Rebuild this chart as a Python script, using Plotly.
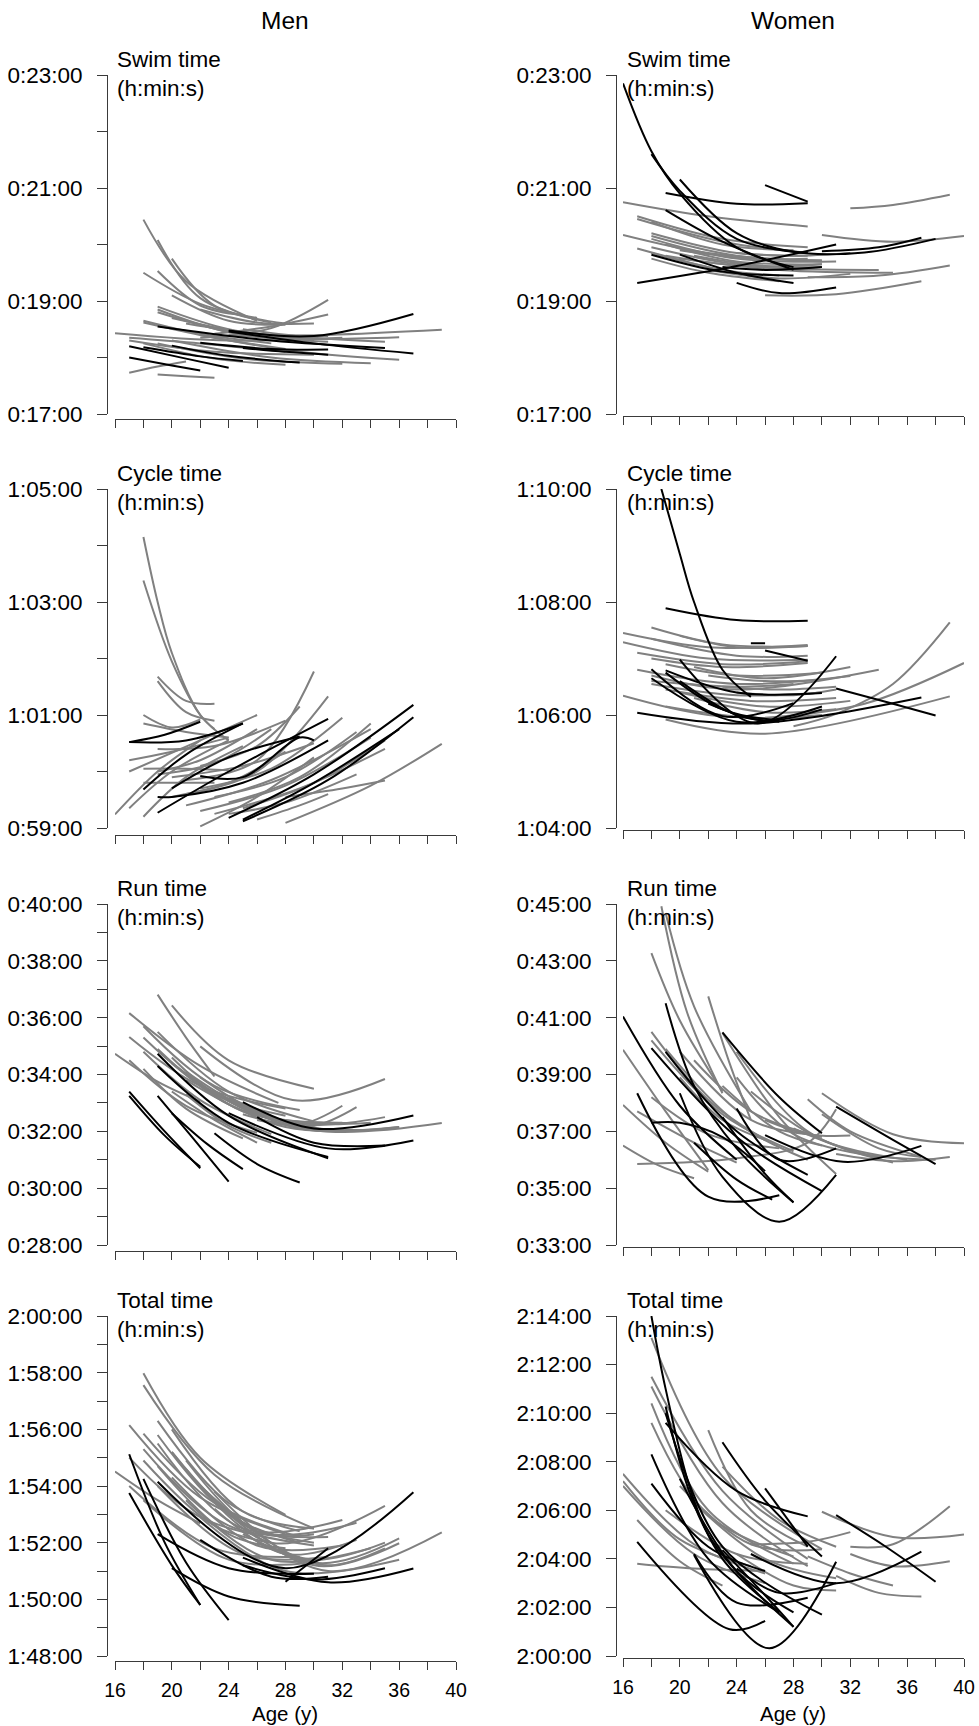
import plotly.graph_objects as go

# ---------------- DATA (age in years, time in minutes) ----------------
AGE_TICKS = [16, 20, 24, 28, 32, 36, 40]
AGE_TICK_LABELS = ["16", "20", "24", "28", "32", "36", "40"]
AGE_MINOR = [18, 22, 26, 30, 34, 38]

SWIM_TICKS = [17, 19, 21, 23]
SWIM_TICK_LABELS = ["0:17:00", "0:19:00", "0:21:00", "0:23:00"]
MEN_CYCLE_TICKS = [59, 61, 63, 65]
MEN_CYCLE_TICK_LABELS = ["0:59:00", "1:01:00", "1:03:00", "1:05:00"]
WOMEN_CYCLE_TICKS = [64, 66, 68, 70]
WOMEN_CYCLE_TICK_LABELS = ["1:04:00", "1:06:00", "1:08:00", "1:10:00"]
MEN_RUN_TICKS = [28, 30, 32, 34, 36, 38, 40]
MEN_RUN_TICK_LABELS = ["0:28:00", "0:30:00", "0:32:00", "0:34:00", "0:36:00", "0:38:00", "0:40:00"]
WOMEN_RUN_TICKS = [33, 35, 37, 39, 41, 43, 45]
WOMEN_RUN_TICK_LABELS = ["0:33:00", "0:35:00", "0:37:00", "0:39:00", "0:41:00", "0:43:00", "0:45:00"]
MEN_TOTAL_TICKS = [108, 110, 112, 114, 116, 118, 120]
MEN_TOTAL_TICK_LABELS = ["1:48:00", "1:50:00", "1:52:00", "1:54:00", "1:56:00", "1:58:00", "2:00:00"]
WOMEN_TOTAL_TICKS = [120, 122, 124, 126, 128, 130, 132, 134]
WOMEN_TOTAL_TICK_LABELS = ["2:00:00", "2:02:00", "2:04:00", "2:06:00", "2:08:00", "2:10:00", "2:12:00", "2:14:00"]

men_swim_gray = [
    ([18, 21, 26], [20.44, 19.35, 18.65]),
    ([19, 22, 27], [20.08, 19.05, 18.62]),
    ([20, 23, 28], [19.75, 18.92, 18.60]),
    ([18, 22, 26], [19.50, 18.95, 18.70]),
    ([19, 22, 25], [19.53, 18.92, 18.75]),
    ([20, 24, 28], [19.10, 18.65, 18.58]),
    ([19, 24, 29], [18.90, 18.50, 18.35]),
    ([19, 24, 30], [18.85, 18.45, 18.30]),
    ([19, 25, 31], [18.80, 18.40, 18.28]),
    ([18, 22, 27], [18.65, 18.42, 18.25]),
    ([18, 23, 28], [18.62, 18.35, 18.15]),
    ([16, 24, 32], [18.43, 18.30, 18.35]),
    ([17, 22, 28], [18.35, 18.25, 18.10]),
    ([17, 19, 21], [17.73, 17.84, 17.93]),
    ([19, 21, 23], [17.70, 17.67, 17.64]),
    ([22, 27, 31], [18.35, 18.52, 19.02]),
    ([23, 27, 31], [18.42, 18.55, 18.76]),
    ([24, 31, 39], [18.38, 18.40, 18.49]),
    ([22, 29, 36], [18.40, 18.10, 17.96]),
    ([20, 27, 34], [18.30, 18.00, 17.90]),
    ([19, 25, 32], [18.25, 17.98, 17.89]),
    ([18, 23, 28], [18.25, 17.98, 17.87]),
    ([24, 30, 36], [18.40, 18.33, 18.36]),
    ([25, 30, 35], [18.50, 18.35, 18.28]),
    ([17, 23, 30], [18.30, 18.10, 18.05]),
    ([21, 26, 31], [18.60, 18.42, 18.38]),
    ([22, 26, 30], [18.85, 18.62, 18.60]),
    ([20, 25, 30], [18.70, 18.45, 18.35]),
]
men_swim_black = [
    ([19, 27, 35], [18.55, 18.30, 18.17]),
    ([24, 30, 37], [18.48, 18.38, 18.77]),
    ([24, 30, 37], [18.46, 18.25, 18.07]),
    ([22, 27, 31], [18.26, 18.15, 18.14]),
    ([17, 21, 24], [18.20, 17.98, 17.82]),
    ([17, 20, 22], [18.00, 17.86, 17.77]),
    ([18, 22, 25], [18.18, 18.02, 17.94]),
    ([20, 24, 29], [18.21, 18.03, 17.91]),
    ([25, 28, 31], [18.17, 18.10, 18.05]),
]

women_swim_gray = [
    ([16, 22, 29], [20.75, 20.50, 20.32]),
    ([17, 23, 29], [20.50, 20.10, 19.95]),
    ([17, 23, 29], [20.45, 20.05, 19.85]),
    ([18, 23, 28], [20.40, 20.00, 19.90]),
    ([16, 22, 30], [20.17, 19.85, 19.70]),
    ([18, 24, 29], [20.20, 19.85, 19.80]),
    ([18, 24, 30], [20.15, 19.80, 19.72]),
    ([18, 24, 31], [20.10, 19.75, 19.70]),
    ([19, 24, 30], [20.00, 19.70, 19.65]),
    ([18, 24, 30], [19.95, 19.65, 19.60]),
    ([17, 22, 26], [19.93, 19.60, 19.40]),
    ([18, 23, 27], [19.85, 19.55, 19.45]),
    ([19, 25, 34], [19.80, 19.60, 19.55]),
    ([20, 27, 35], [19.75, 19.55, 19.50]),
    ([18, 22, 27], [19.75, 19.50, 19.35]),
    ([22, 27, 32], [19.55, 19.40, 19.48]),
    ([26, 31, 37], [19.10, 19.12, 19.35]),
    ([29, 34, 39], [19.42, 19.45, 19.63]),
    ([32, 35, 39], [20.64, 20.70, 20.88]),
    ([30, 35, 40], [20.17, 20.05, 20.15]),
    ([24, 28, 32], [19.85, 19.80, 19.85]),
    ([20, 25, 29], [19.90, 19.75, 19.75]),
    ([21, 26, 30], [19.80, 19.62, 19.65]),
]
women_swim_black = [
    ([16, 18, 20, 24, 28], [22.85, 21.65, 20.90, 19.95, 19.60]),
    ([18, 20, 24, 29], [21.60, 20.95, 20.10, 19.85]),
    ([19, 24, 29], [20.91, 20.72, 20.73]),
    ([26, 29], [21.05, 20.76]),
    ([19, 23, 28], [20.61, 20.05, 19.55]),
    ([20, 24, 28, 33, 38], [21.15, 20.20, 19.87, 19.86, 20.10]),
    ([30, 34, 37], [19.88, 19.95, 20.12]),
    ([17, 24, 31], [19.32, 19.62, 20.00]),
    ([18, 23, 28], [19.82, 19.52, 19.45]),
    ([20, 24, 28], [19.82, 19.50, 19.32]),
    ([24, 27, 31], [19.32, 19.14, 19.24]),
    ([23, 26, 30], [19.60, 19.55, 19.60]),
]

men_cycle_gray = [
    ([18, 19, 20, 22, 24], [64.15, 63.00, 62.10, 61.00, 60.55]),
    ([18, 20, 22, 23], [63.38, 61.95, 61.00, 60.75]),
    ([19, 21, 23], [61.68, 61.25, 61.20]),
    ([19, 21, 23], [61.60, 61.05, 60.90]),
    ([18, 20, 22], [61.00, 60.78, 60.92]),
    ([18, 21, 24], [60.85, 60.70, 60.60]),
    ([16, 19, 22], [59.24, 60.00, 60.55]),
    ([17, 22, 26], [60.00, 60.55, 61.00]),
    ([17, 20, 24], [59.35, 60.00, 60.55]),
    ([18, 21, 25], [59.20, 59.90, 60.45]),
    ([18, 21, 24], [60.05, 60.05, 60.02]),
    ([18, 21, 23], [59.80, 59.80, 59.80]),
    ([19, 23, 27], [59.95, 60.15, 60.75]),
    ([21, 26, 30], [59.85, 60.20, 61.77]),
    ([21, 26, 31], [59.60, 60.00, 61.33]),
    ([22, 26, 29], [60.10, 60.45, 61.15]),
    ([22, 27, 32], [59.70, 60.05, 60.95]),
    ([23, 28, 33], [59.55, 59.90, 60.70]),
    ([21, 27, 34], [59.40, 59.85, 60.75]),
    ([22, 28, 34], [59.30, 59.75, 60.60]),
    ([23, 29, 35], [59.25, 59.70, 60.40]),
    ([20, 25, 30], [59.90, 60.10, 60.50]),
    ([24, 28, 33], [59.25, 59.45, 59.95]),
    ([28, 34, 39], [59.09, 59.75, 60.49]),
    ([22, 26, 30], [59.03, 59.55, 60.25]),
    ([28, 32, 35], [59.55, 59.70, 59.84]),
    ([26, 29, 31], [59.15, 59.40, 59.60]),
    ([17, 20, 24], [60.20, 60.35, 60.60]),
    ([19, 22, 26], [60.00, 60.20, 60.75]),
    ([20, 24, 28], [59.55, 59.80, 60.35]),
    ([24, 29, 34], [59.45, 59.90, 60.85]),
    ([25, 30, 35], [59.35, 59.80, 60.55]),
    ([19, 23, 28], [60.40, 60.45, 60.90]),
]
men_cycle_black = [
    ([17, 19.5, 22], [60.52, 60.65, 60.88]),
    ([17, 21, 25], [60.52, 60.55, 60.85]),
    ([18, 21, 25], [59.68, 60.30, 60.85]),
    ([19, 24, 31], [59.27, 60.00, 60.93]),
    ([20, 24, 29], [59.70, 60.25, 60.62]),
    ([22, 25, 29, 30], [59.92, 59.90, 60.60, 60.55]),
    ([19, 20, 25, 31], [59.55, 59.55, 59.80, 60.55]),
    ([24, 30, 37], [59.18, 59.95, 61.18]),
    ([25, 31, 37], [59.12, 59.85, 60.96]),
    ([25, 30, 36], [59.15, 59.80, 60.75]),
]

women_cycle_gray = [
    ([16, 22, 29], [67.45, 67.20, 67.24]),
    ([18, 23, 29], [67.55, 67.25, 67.22]),
    ([20, 24, 29], [67.40, 67.20, 67.22]),
    ([16, 22, 29], [67.29, 67.00, 66.98]),
    ([17, 23, 29], [67.10, 66.90, 66.95]),
    ([18, 23, 29], [67.00, 66.85, 66.92]),
    ([17, 24, 32], [66.80, 66.55, 66.69]),
    ([18, 24, 34], [66.70, 66.45, 66.80]),
    ([18, 24, 30], [66.55, 66.35, 66.40]),
    ([19, 25, 31], [66.45, 66.25, 66.30]),
    ([16, 22, 29], [66.34, 66.00, 65.95]),
    ([19, 26, 39], [65.92, 65.67, 66.33]),
    ([26, 33, 40], [65.95, 66.20, 66.92]),
    ([28, 31, 35, 39], [65.80, 66.02, 66.55, 67.64]),
    ([20, 26, 32], [66.40, 66.15, 66.25]),
    ([21, 26, 31], [66.30, 66.05, 66.10]),
    ([19, 25, 30], [66.15, 65.95, 66.00]),
    ([18, 24, 28], [66.60, 66.50, 66.55]),
    ([22, 26, 30], [66.70, 66.60, 66.62]),
    ([23, 27, 31], [66.50, 66.45, 66.50]),
    ([18, 24, 29], [67.35, 67.05, 67.05]),
    ([19, 24, 30], [66.90, 66.70, 66.75]),
    ([21, 26, 32], [66.85, 66.65, 66.85]),
    ([24, 28, 31], [66.40, 66.35, 66.45]),
]
women_cycle_black = [
    ([18.7, 20, 21, 23, 25], [70.00, 68.85, 68.00, 66.80, 66.32]),
    ([19, 24, 29], [67.89, 67.68, 67.67]),
    ([25, 26], [67.27, 67.27]),
    ([26, 29], [67.14, 66.96]),
    ([20, 25.5, 31], [66.98, 65.85, 67.04]),
    ([18, 23, 28], [66.81, 65.98, 66.21]),
    ([18, 24, 30], [66.65, 65.88, 66.15]),
    ([19, 24, 30], [66.79, 66.40, 66.39]),
    ([17, 25, 37], [66.04, 65.85, 66.31]),
    ([31, 35, 38], [66.47, 66.20, 65.99]),
    ([19, 23, 27], [66.75, 66.10, 65.90]),
    ([20, 24, 27], [66.60, 66.00, 65.88]),
    ([22, 26, 30], [66.20, 65.90, 66.10]),
]

men_run_gray = [
    ([19, 21, 23], [36.81, 35.30, 33.93]),
    ([20, 24, 30], [36.43, 34.50, 33.50]),
    ([22, 28.5, 35], [34.99, 33.10, 33.84]),
    ([17, 22, 27.5], [36.16, 34.30, 33.00]),
    ([17, 22, 28], [35.32, 33.60, 32.80]),
    ([16, 19, 22], [34.73, 33.75, 33.05]),
    ([18, 23, 29], [35.70, 33.60, 32.75]),
    ([18, 23, 28], [35.30, 33.30, 32.55]),
    ([17, 21, 26], [34.50, 32.90, 31.95]),
    ([18, 22, 27], [34.80, 33.10, 31.90]),
    ([19, 24, 30], [35.50, 33.40, 32.35]),
    ([19, 24, 31], [34.90, 32.95, 32.05]),
    ([20, 25, 32], [34.60, 32.70, 32.30]),
    ([20, 26, 33], [34.40, 32.60, 32.30]),
    ([21, 27, 34], [34.10, 32.45, 32.30]),
    ([22, 28, 35], [33.90, 32.30, 32.50]),
    ([21, 28, 36], [33.80, 32.15, 32.15]),
    ([22, 29, 36], [33.60, 32.10, 32.15]),
    ([23, 30, 39], [33.40, 32.05, 32.29]),
    ([24, 29, 34], [33.20, 32.20, 32.05]),
    ([25, 29, 32], [32.60, 32.25, 32.90]),
    ([26, 30, 33], [32.40, 32.20, 32.85]),
    ([20, 23, 26], [33.40, 32.40, 31.60]),
    ([21, 24, 27], [33.30, 32.20, 31.60]),
    ([18, 21, 25], [34.20, 32.80, 31.75]),
]
men_run_black = [
    ([19, 24, 31], [34.73, 32.55, 31.05]),
    ([19, 24, 31], [34.30, 32.30, 31.10]),
    ([25, 30, 37], [33.03, 32.10, 32.56]),
    ([24, 31, 37], [32.64, 31.40, 31.68]),
    ([17, 19.5, 22], [33.40, 32.00, 30.70]),
    ([17, 19.5, 22], [33.25, 31.85, 30.75]),
    ([19, 21.5, 24], [33.25, 31.75, 30.23]),
    ([20, 22.5, 25], [32.64, 31.55, 30.67]),
    ([23, 26, 29], [31.93, 30.85, 30.20]),
    ([26, 30, 35], [32.50, 31.60, 31.50]),
]

women_run_gray = [
    ([18.7, 20.5, 23], [44.92, 41.20, 38.34]),
    ([19, 21, 25], [44.68, 41.40, 37.70]),
    ([18, 20, 23], [43.27, 40.90, 38.40]),
    ([22, 23.5, 25], [41.75, 39.40, 37.40]),
    ([16, 19, 22], [39.87, 37.70, 35.64]),
    ([16, 19, 22], [37.93, 36.60, 35.58]),
    ([16, 18.5, 21], [36.50, 35.80, 35.35]),
    ([17, 24, 29, 31], [35.85, 36.05, 36.60, 37.78]),
    ([29, 32, 37], [38.13, 37.00, 36.10]),
    ([30, 35, 40], [38.34, 36.90, 36.58]),
    ([31, 35, 39], [36.20, 35.95, 36.10]),
    ([24, 29, 35], [39.80, 37.00, 35.90]),
    ([23, 27, 31], [40.46, 37.50, 35.50]),
    ([18, 22, 26], [40.50, 38.10, 36.70]),
    ([18, 23, 28], [40.20, 37.60, 36.30]),
    ([19, 24, 29], [39.90, 37.30, 36.00]),
    ([20, 25, 29], [39.80, 37.40, 36.90]),
    ([21, 25, 30], [39.50, 37.70, 36.80]),
    ([24, 28, 34], [38.90, 36.90, 36.10]),
    ([25, 30, 36], [38.40, 36.70, 36.00]),
    ([17, 21, 24], [37.70, 36.60, 35.90]),
    ([18, 22, 27], [38.20, 36.90, 36.40]),
    ([20, 23, 26], [38.90, 37.40, 36.70]),
    ([23, 27, 30], [38.60, 37.00, 36.50]),
    ([26, 29, 32], [37.40, 36.90, 36.85]),
    ([30, 34, 37], [37.60, 36.40, 36.10]),
    ([28, 33, 38], [37.10, 36.20, 36.00]),
]
women_run_black = [
    ([16, 20, 24], [41.04, 37.90, 36.00]),
    ([19, 21, 24, 28], [41.51, 38.60, 36.40, 34.50]),
    ([23, 27, 30], [40.48, 38.20, 36.93]),
    ([17, 22, 27], [38.34, 34.70, 34.75]),
    ([20, 23, 27, 31], [38.34, 35.40, 33.82, 35.47]),
    ([18, 24, 30], [39.93, 36.80, 34.90]),
    ([19, 24, 29], [39.80, 37.00, 35.47]),
    ([24, 27, 31], [37.80, 36.00, 36.40]),
    ([31, 35, 38], [37.87, 36.70, 35.85]),
    ([26, 31.5, 37], [36.87, 35.93, 36.49]),
    ([23, 26, 28], [37.50, 35.50, 34.50]),
    ([18, 20, 23, 26], [37.30, 37.30, 36.80, 35.60]),
    ([21, 24, 26.5], [36.60, 35.30, 34.60]),
]

men_total_gray = [
    ([18, 22, 28], [117.98, 115.00, 112.98]),
    ([18, 23, 30], [117.56, 114.40, 112.50]),
    ([17, 22, 28], [116.15, 113.60, 112.30]),
    ([18, 23, 29], [115.85, 113.40, 112.20]),
    ([16, 19, 22], [114.51, 113.50, 112.68]),
    ([17, 22, 30], [115.00, 112.90, 111.90]),
    ([18, 24, 31], [115.30, 112.60, 112.20]),
    ([19, 25, 32], [115.50, 112.50, 112.80]),
    ([20, 26, 33], [115.20, 112.40, 112.70]),
    ([21, 27, 35], [114.60, 112.00, 113.30]),
    ([22, 30, 36], [114.00, 111.30, 112.15]),
    ([23, 30, 36], [113.80, 111.20, 111.98]),
    ([24, 31, 39], [113.00, 111.00, 112.36]),
    ([20, 26, 32], [114.30, 111.90, 111.90]),
    ([19, 25, 31], [114.00, 111.60, 111.50]),
    ([18, 24, 30], [113.50, 111.40, 111.30]),
    ([17, 23, 29], [114.00, 111.80, 111.50]),
    ([18, 23, 27], [114.90, 112.60, 112.00]),
    ([19, 24, 29], [115.80, 113.00, 112.00]),
    ([20, 25, 30], [116.00, 113.10, 112.50]),
    ([21, 27, 34], [113.50, 111.40, 111.80]),
    ([22, 28, 36], [112.90, 111.00, 111.40]),
    ([25, 30, 35], [112.30, 111.40, 112.00]),
    ([26, 31, 35], [112.00, 111.20, 111.80]),
    ([20, 25, 30], [115.20, 112.70, 112.00]),
    ([19, 24, 28], [114.70, 112.30, 111.80]),
    ([19, 24, 29], [116.30, 113.40, 112.40]),
    ([21, 26, 30], [114.90, 112.40, 112.30]),
    ([23, 28, 33], [113.20, 111.60, 112.10]),
]
men_total_black = [
    ([17, 19.5, 22], [115.12, 112.00, 109.80]),
    ([17, 20, 22], [113.75, 111.20, 109.80]),
    ([18, 21, 24], [114.25, 111.30, 109.27]),
    ([19, 28, 37], [114.15, 111.10, 113.78]),
    ([19, 24, 30], [112.30, 111.10, 110.90]),
    ([20, 24, 29], [111.10, 110.10, 109.77]),
    ([25, 31, 37], [111.47, 110.60, 111.09]),
    ([25, 30, 35], [111.20, 110.70, 111.10]),
    ([28, 31], [110.62, 111.80]),
    ([22, 27, 31], [112.10, 110.80, 110.80]),
]

women_total_gray = [
    ([18, 23, 30], [133.10, 127.40, 124.40]),
    ([18, 23, 29], [131.50, 126.80, 124.00]),
    ([18, 23, 29], [131.10, 126.30, 123.70]),
    ([18, 22, 28], [130.40, 126.00, 123.80]),
    ([18, 22, 28], [129.60, 125.80, 124.10]),
    ([22, 25, 29], [129.30, 126.00, 124.50]),
    ([16, 21, 26], [127.50, 124.60, 123.40]),
    ([16, 20, 25], [127.20, 124.80, 123.70]),
    ([16, 21, 26], [127.00, 124.20, 123.00]),
    ([17, 20, 23], [125.60, 123.90, 122.90]),
    ([17, 21, 26], [123.80, 123.60, 123.50]),
    ([23, 27, 31], [127.80, 125.60, 124.50]),
    ([20, 25, 30], [127.00, 124.60, 124.40]),
    ([21, 26, 31], [126.30, 124.00, 123.20]),
    ([19, 24, 29], [126.00, 124.20, 123.80]),
    ([30, 35, 40], [125.94, 124.90, 125.00]),
    ([32, 35, 39], [124.50, 124.60, 126.17]),
    ([31, 34, 37], [123.30, 122.60, 122.45]),
    ([32, 35, 39], [124.20, 123.70, 123.90]),
    ([29, 32, 35], [124.10, 123.40, 122.90]),
    ([25, 29, 32], [124.60, 124.70, 125.10]),
    ([24, 28, 31], [124.20, 122.90, 122.70]),
]
women_total_black = [
    ([18, 19, 21, 23, 27], [134.00, 131.00, 126.40, 124.00, 121.80]),
    ([19, 22, 28], [130.27, 125.00, 121.20]),
    ([19, 23, 30], [130.00, 124.50, 121.70]),
    ([18, 22, 27], [128.30, 124.00, 121.80]),
    ([18, 22, 26], [127.10, 124.50, 123.50]),
    ([17, 23.5, 26], [124.70, 121.10, 121.45]),
    ([21, 26.3, 31], [124.16, 120.32, 123.88]),
    ([19, 24, 29], [129.60, 126.80, 125.75]),
    ([23, 26, 30], [128.80, 126.40, 124.10]),
    ([26, 29], [126.90, 124.50]),
    ([25, 31, 37], [124.20, 123.00, 124.30]),
    ([31, 34.5, 38], [125.80, 124.50, 123.06]),
    ([23, 26, 28], [124.36, 122.50, 121.20]),
    ([20, 24, 28], [127.30, 123.50, 121.80]),
    ([21, 24, 29], [124.20, 122.20, 122.40]),
    ([24, 27, 31], [123.60, 122.60, 123.00]),
]

PANELS = [
    # (row, col, label, gray, black, yrange, ticks, ticklabels, minor)
    (0, 0, "Swim time", men_swim_gray, men_swim_black, (17, 23), SWIM_TICKS, SWIM_TICK_LABELS, True),
    (0, 1, "Swim time", women_swim_gray, women_swim_black, (17, 23), SWIM_TICKS, SWIM_TICK_LABELS, False),
    (1, 0, "Cycle time", men_cycle_gray, men_cycle_black, (59, 65), MEN_CYCLE_TICKS, MEN_CYCLE_TICK_LABELS, True),
    (1, 1, "Cycle time", women_cycle_gray, women_cycle_black, (64, 70), WOMEN_CYCLE_TICKS, WOMEN_CYCLE_TICK_LABELS, False),
    (2, 0, "Run time", men_run_gray, men_run_black, (28, 40), MEN_RUN_TICKS, MEN_RUN_TICK_LABELS, True),
    (2, 1, "Run time", women_run_gray, women_run_black, (33, 45), WOMEN_RUN_TICKS, WOMEN_RUN_TICK_LABELS, False),
    (3, 0, "Total time", men_total_gray, men_total_black, (108, 120), MEN_TOTAL_TICKS, MEN_TOTAL_TICK_LABELS, True),
    (3, 1, "Total time", women_total_gray, women_total_black, (120, 134), WOMEN_TOTAL_TICKS, WOMEN_TOTAL_TICK_LABELS, False),
]

# ---------------- LAYOUT (pixels) ----------------
W, H = 979, 1726
FONT = "Liberation Sans, Arial, Helvetica, sans-serif"
AXIS_COLOR = "#3a3a3a"
GRAY = "#808080"
BLACK = "#000000"

col_yline = [107, 616]
col_xdom = [(115, 456), (623, 964)]
row_ydom = [(75, 414), (489, 828), (904, 1245), (1316, 1656)]
xline_px = [[419, 416], [835, 830], [1251, 1247], [1661, 1658]]

fig = go.Figure()
layout = dict(
    width=W, height=H, autosize=False,
    margin=dict(l=0, r=0, t=0, b=0, pad=0, autoexpand=False),
    paper_bgcolor="white", plot_bgcolor="rgba(0,0,0,0)",
    showlegend=False, hovermode=False,
    font=dict(family=FONT, color="black"),
)
annotations = []

for i, (row, col, label, gray, black, yr, yt, ytl, minor) in enumerate(PANELS):
    n = i + 1
    xa = "x" if n == 1 else f"x{n}"
    ya = "y" if n == 1 else f"y{n}"
    for color, curves in ((GRAY, gray), (BLACK, black)):
        for ages, times in curves:
            fig.add_trace(go.Scatter(
                x=ages, y=times, mode="lines", xaxis=xa, yaxis=ya,
                line=dict(color=color, width=2.0, shape="spline", smoothing=1.0),
                hoverinfo="skip",
            ))
    x0, x1 = col_xdom[col]
    t, b = row_ydom[row]
    bottom = row == 3
    layout["xaxis" if n == 1 else f"xaxis{n}"] = dict(
        domain=[x0 / W, x1 / W], anchor="free", position=1 - xline_px[row][col] / H,
        range=[16, 40], showline=True, linecolor=AXIS_COLOR, linewidth=1,
        ticks="outside", ticklen=8, tickwidth=1, tickcolor=AXIS_COLOR,
        tickvals=AGE_TICKS, ticktext=AGE_TICK_LABELS, showticklabels=bottom,
        tickfont=dict(size=19.5, family=FONT, color="black"), ticklabelstandoff=4,
        minor=dict(tickvals=AGE_MINOR, ticks="outside", ticklen=8, tickwidth=1,
                   tickcolor=AXIS_COLOR, showgrid=False),
        showgrid=False, zeroline=False, fixedrange=True, automargin=False,
    )
    ydict = dict(
        domain=[1 - b / H, 1 - t / H], anchor="free", position=col_yline[col] / W,
        range=list(yr), showline=True, linecolor=AXIS_COLOR, linewidth=1,
        ticks="outside", ticklen=10, tickwidth=1, tickcolor=AXIS_COLOR,
        tickvals=yt, ticktext=ytl, tickfont=dict(size=22.5, family=FONT, color="black"),
        ticklabelstandoff=10,
        showgrid=False, zeroline=False, fixedrange=True, automargin=False,
    )
    if minor:
        ydict["minor"] = dict(tickvals=[v + 1 for v in yt[:-1]], ticks="outside", ticklen=10,
                              tickwidth=1, tickcolor=AXIS_COLOR, showgrid=False)
    layout["yaxis" if n == 1 else f"yaxis{n}"] = ydict

    lx = 115 if col == 0 else 625
    annotations.append(dict(
        text=f"{label}<br>(h:min:s)", xref="paper", yref="paper",
        x=lx / W, y=1 - (t - 1) / H, xanchor="left", yanchor="middle", align="left",
        showarrow=False, font=dict(size=22.5, family=FONT, color="black"),
    ))

for txt, cx in (("Men", 285), ("Women", 793)):
    annotations.append(dict(text=txt, xref="paper", yref="paper", x=cx / W, y=1 - 20 / H,
                            xanchor="center", yanchor="middle", showarrow=False,
                            font=dict(size=24.5, family=FONT, color="black")))
    annotations.append(dict(text="Age (y)", xref="paper", yref="paper", x=cx / W, y=1 - 1713 / H,
                            xanchor="center", yanchor="middle", showarrow=False,
                            font=dict(size=20.5, family=FONT, color="black")))

layout["annotations"] = annotations
fig.update_layout(**layout)
fig.write_html(
    "out.html",
    config={"displayModeBar": False},
    post_script="document.body.style.margin='0';document.body.style.padding='0';"
                "document.documentElement.style.overflow='hidden';",
)
